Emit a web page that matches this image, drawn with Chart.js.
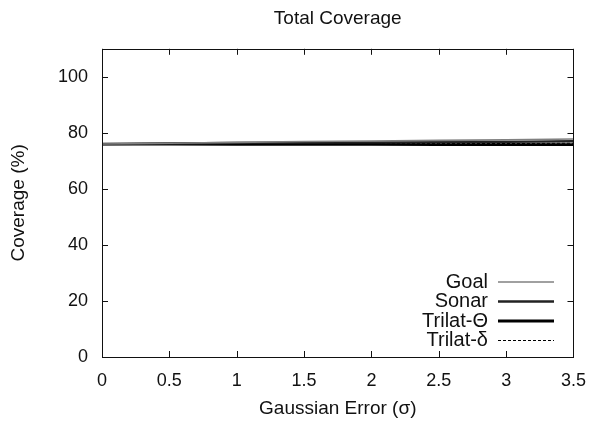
<!DOCTYPE html>
<html>
<head>
<meta charset="utf-8">
<script src="https://cdn.jsdelivr.net/npm/chart.js@4"></script>
<style>
  body { margin: 0; background: #fff; }
  #wrap { width: 599px; height: 421px; }
</style>
</head>
<body>
<div id="wrap"><canvas id="coverage"></canvas></div>
<script>
const sigma = [0, 0.5, 1, 1.5, 2, 2.5, 3, 3.5];
const goal = [76.0, 76.3, 76.6, 76.9, 77.1, 77.3, 77.5, 77.8];
const sonar = [76.0, 76.2, 76.4, 76.5, 76.6, 76.7, 76.8, 77.0];
const trilatTheta = [76.0, 76.0, 75.9, 75.9, 75.9, 75.8, 75.8, 75.8];
const trilatDelta = [76.0, 76.1, 76.1, 76.1, 76.2, 76.2, 76.2, 76.3];
const xTicks = [0, 0.5, 1, 1.5, 2, 2.5, 3, 3.5];
const yTicks = [0, 20, 40, 60, 80, 100];

const FONT = "'Liberation Sans', Arial, Helvetica, sans-serif";

function toPoints(ys) {
    return sigma.map((x, i) => ({ x: x, y: ys[i] }));
}

// gnuplot style frame with inward ticks on all four sides
const framePlugin = {
    id: 'frame',
    afterDraw(chart) {
        const ctx = chart.ctx;
        const a = chart.chartArea;
        const xs = chart.scales.x, ys = chart.scales.y;
        const len = 6;
        ctx.save();
        ctx.strokeStyle = '#111';
        ctx.lineWidth = 1;
        ctx.strokeRect(Math.round(a.left) + 0.5, Math.round(a.top) + 0.5,
            Math.round(a.right - a.left), Math.round(a.bottom - a.top));
        ctx.beginPath();
        xTicks.forEach(v => {
            const px = Math.round(xs.getPixelForValue(v)) + 0.5;
            ctx.moveTo(px, a.bottom); ctx.lineTo(px, a.bottom - len);
            ctx.moveTo(px, a.top); ctx.lineTo(px, a.top + len);
        });
        yTicks.forEach(v => {
            const py = Math.round(ys.getPixelForValue(v)) + 0.5;
            ctx.moveTo(a.left, py); ctx.lineTo(a.left + len, py);
            ctx.moveTo(a.right, py); ctx.lineTo(a.right - len, py);
        });
        ctx.stroke();
        ctx.restore();
    }
};

// key in the lower right corner: label right aligned, sample line after it
const keyPlugin = {
    id: 'key',
    afterDraw(chart) {
        const ctx = chart.ctx;
        const textRight = 488, lineStart = 498, lineEnd = 554;
        let y = 282;
        ctx.save();
        ctx.font = '20px ' + FONT;
        ctx.textAlign = 'right';
        ctx.textBaseline = 'middle';
        chart.data.datasets.forEach(ds => {
            ctx.fillStyle = '#111';
            ctx.fillText(ds.label, textRight, y);
            ctx.strokeStyle = ds.borderColor;
            ctx.lineWidth = ds.borderWidth;
            ctx.setLineDash(ds.borderDash || []);
            ctx.beginPath();
            ctx.moveTo(lineStart, y);
            ctx.lineTo(lineEnd, y);
            ctx.stroke();
            y += 19.5;
        });
        ctx.restore();
    }
};

new Chart(document.getElementById('coverage'), {
    type: 'line',
    data: {
        datasets: [
            { label: 'Goal', data: toPoints(goal), borderColor: '#808080', borderWidth: 1.6 },
            { label: 'Sonar', data: toPoints(sonar), borderColor: '#222', borderWidth: 2.3 },
            { label: 'Trilat-\u0398', data: toPoints(trilatTheta), borderColor: '#000', borderWidth: 2.8 },
            { label: 'Trilat-\u03b4', data: toPoints(trilatDelta), borderColor: '#000', borderWidth: 1, borderDash: [3, 2] }
        ]
    },
    options: {
        responsive: true,
        maintainAspectRatio: false,
        animation: false,
        layout: { padding: { left: 0, right: 17, top: 0, bottom: 0 } },
        elements: { point: { radius: 0 }, line: { tension: 0, fill: false } },
        plugins: {
            legend: { display: false },
            tooltip: { enabled: false },
            title: {
                display: true,
                text: 'Total Coverage',
                fullSize: false,
                color: '#111',
                font: { family: FONT, size: 19, weight: 'normal' },
                padding: { top: 7, bottom: 19 }
            }
        },
        scales: {
            x: {
                type: 'linear',
                min: 0,
                max: 3.5,
                afterFit(scale) { scale.height = 64; },
                afterBuildTicks(scale) { scale.ticks = xTicks.map(v => ({ value: v })); },
                grid: { display: false, drawTicks: false },
                border: { display: false },
                ticks: {
                    padding: 13,
                    color: '#111',
                    maxRotation: 0,
                    font: { family: FONT, size: 18 },
                    callback: v => String(v)
                },
                title: {
                    display: true,
                    text: 'Gaussian Error (\u03c3)',
                    color: '#111',
                    font: { family: FONT, size: 19 },
                    padding: { top: 0, bottom: 1 }
                }
            },
            y: {
                type: 'linear',
                min: 0,
                max: 110,
                afterFit(scale) { scale.width = 102; },
                afterBuildTicks(scale) { scale.ticks = yTicks.map(v => ({ value: v })); },
                grid: { display: false, drawTicks: false },
                border: { display: false },
                ticks: {
                    padding: 14,
                    color: '#111',
                    font: { family: FONT, size: 18 }
                },
                title: {
                    display: true,
                    text: 'Coverage (%)',
                    color: '#111',
                    font: { family: FONT, size: 19 },
                    padding: { top: 7, bottom: 0 }
                }
            }
        }
    },
    plugins: [framePlugin, keyPlugin]
});
</script>
</body>
</html>
